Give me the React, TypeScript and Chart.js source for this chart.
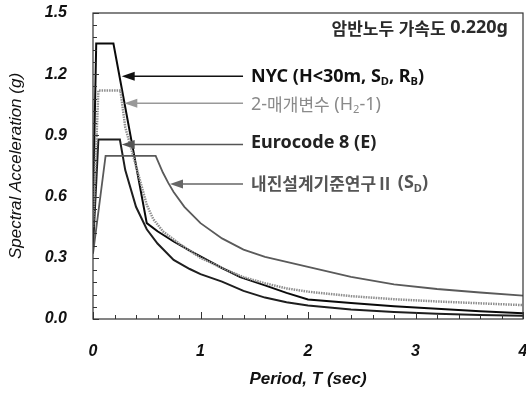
import React, { useEffect, useRef } from "react";
import { Chart, registerables } from "chart.js";

Chart.register(...registerables);

// ---- data ----
const nycPeriod = [0, 0.03, 0.19, 0.5, 0.6, 0.75, 0.9, 1.06, 1.2, 1.37, 1.6, 1.8, 2.0, 2.4, 2.8, 3.2, 3.6, 4.0];
const nycSa = [0.54, 1.35, 1.35, 0.47, 0.43, 0.38, 0.335, 0.29, 0.25, 0.205, 0.165, 0.128, 0.096, 0.078, 0.063, 0.05, 0.038, 0.028];

const twoParamPeriod = [0, 0.05, 0.255, 0.3, 0.4, 0.5, 0.56, 0.65, 0.8, 1.0, 1.2, 1.4, 1.6, 1.8, 2.0, 2.4, 2.8, 3.2, 3.6, 4.0];
const twoParamSa = [0.45, 1.12, 1.12, 0.94, 0.75, 0.56, 0.49, 0.43, 0.37, 0.30, 0.25, 0.205, 0.175, 0.15, 0.134, 0.112, 0.097, 0.086, 0.077, 0.068];

const eurocodePeriod = [0, 0.05, 0.25, 0.3, 0.4, 0.5, 0.6, 0.75, 0.9, 1.0, 1.2, 1.4, 1.6, 1.8, 2.0, 2.4, 2.8, 3.2, 3.6, 4.0];
const eurocodeSa = [0.35, 0.88, 0.88, 0.73, 0.55, 0.44, 0.37, 0.29, 0.245, 0.22, 0.183, 0.138, 0.105, 0.082, 0.066, 0.046, 0.034, 0.026, 0.02, 0.016];

const sdPeriod = [0, 0.117, 0.583, 0.65, 0.7, 0.75, 0.85, 1.0, 1.2, 1.4, 1.6, 1.8, 2.0, 2.4, 2.8, 3.2, 3.6, 4.0];
const sdSa = [0.32, 0.8, 0.8, 0.718, 0.667, 0.623, 0.55, 0.47, 0.395, 0.34, 0.305, 0.28, 0.256, 0.207, 0.17, 0.147, 0.13, 0.115];

const xTickValues = [0, 1, 2, 3, 4];
const xMinorTickValues = [0.2, 0.4, 0.6, 0.8, 1.2, 1.4, 1.6, 1.8, 2.2, 2.4, 2.6, 2.8, 3.2, 3.4, 3.6, 3.8];
const yTickValues = [0, 0.3, 0.6, 0.9, 1.2, 1.5];
const yMinorTickValues = [0.06, 0.12, 0.18, 0.24, 0.36, 0.42, 0.48, 0.54, 0.66, 0.72, 0.78, 0.84, 0.96, 1.02, 1.08, 1.14, 1.26, 1.32, 1.38, 1.44];

const xTitle = "Period, T (sec)";
const yTitle = "Spectral Acceleration (g)";
const headerText = "암반노두 가속도 0.220g";

// label pieces: [text, isSubscript]
const nycLabel: [string, boolean][] = [["NYC (H<30m, S", false], ["D", true], [", R", false], ["B", true], [")", false]];
const twoParamLabel: [string, boolean][] = [["2-매개변수 (H", false], ["2", true], ["-1)", false]];
const eurocodeLabel: [string, boolean][] = [["Eurocode 8 (E)", false]];
const sdLabel: [string, boolean][] = [["내진설계기준연구Ⅱ (S", false], ["D", true], [")", false]];

// annotation anchors in data units (period, Sa)
const annotations = [
  { parts: nycLabel, tip: [0.267, 1.19], textAt: [1.47, 1.188], color: "#111", textColor: "#111", weight: "bold" },
  { parts: twoParamLabel, tip: [0.291, 1.057], textAt: [1.47, 1.05], color: "#999", textColor: "#8a8a8a", weight: "normal" },
  { parts: eurocodeLabel, tip: [0.267, 0.856], textAt: [1.47, 0.861], color: "#555", textColor: "#222", weight: "bold" },
  { parts: sdLabel, tip: [0.716, 0.662], textAt: [1.47, 0.665], color: "#666", textColor: "#555", weight: "bold" },
];
const headerAt = [3.86, 1.426];

const CJK_FONT = "'Noto Sans CJK KR', sans-serif";
const LATIN_FONT = "'Noto Sans', 'Open Sans', sans-serif";
const AXIS_FONT = "Arial, 'Liberation Sans', sans-serif";
const CJK_SIZE = 17;
const LATIN_SIZE = 18;

function toPoints(xs: number[], ys: number[]) {
  return xs.map((x, i) => ({ x, y: ys[i] }));
}

// split a string into runs of Hangul/roman-numeral and other characters
function scriptRuns(s: string): [string, boolean][] {
  const runs: [string, boolean][] = [];
  const re = /[\uAC00-\uD7A3\u2160-\u217F]/;
  for (const ch of s) {
    const cjk = re.test(ch);
    if (runs.length && runs[runs.length - 1][1] === cjk) runs[runs.length - 1][0] += ch;
    else runs.push([ch, cjk]);
  }
  return runs;
}

function measureRich(ctx: any, s: string, weight: string, scale = 1) {
  let w = 0;
  scriptRuns(s).forEach(([t, cjk]) => {
    ctx.font = cjk ? `${weight} ${CJK_SIZE * scale}px ${CJK_FONT}` : `${weight} ${LATIN_SIZE * scale}px ${LATIN_FONT}`;
    w += ctx.measureText(t).width;
  });
  return w;
}

function drawRich(ctx: any, s: string, x: number, y: number, weight: string, scale = 1) {
  let cx = x;
  scriptRuns(s).forEach(([t, cjk]) => {
    ctx.font = cjk ? `${weight} ${CJK_SIZE * scale}px ${CJK_FONT}` : `${weight} ${LATIN_SIZE * scale}px ${LATIN_FONT}`;
    ctx.fillText(t, cx, y);
    cx += ctx.measureText(t).width;
  });
  return cx;
}

const overlayPlugin = {
  id: "overlay",
  afterDatasetsDraw(chart: any) {
    const { ctx, chartArea: a, scales } = chart;
    const xs = scales.x;
    const ys = scales.y;
    ctx.save();
    // frame
    ctx.strokeStyle = "#333";
    ctx.lineWidth = 1.2;
    ctx.strokeRect(a.left, a.top, a.right - a.left, a.bottom - a.top);
    // inward ticks
    ctx.lineWidth = 1;
    ctx.strokeStyle = "#333";
    ctx.beginPath();
    xTickValues.forEach((v) => {
      const px = Math.round(xs.getPixelForValue(v)) + 0.5;
      ctx.moveTo(px, a.bottom);
      ctx.lineTo(px, a.bottom - 7);
    });
    xMinorTickValues.forEach((v) => {
      const px = Math.round(xs.getPixelForValue(v)) + 0.5;
      ctx.moveTo(px, a.bottom);
      ctx.lineTo(px, a.bottom - 4);
    });
    yTickValues.forEach((v) => {
      const py = Math.round(ys.getPixelForValue(v)) + 0.5;
      ctx.moveTo(a.left, py);
      ctx.lineTo(a.left + 6, py);
    });
    yMinorTickValues.forEach((v) => {
      const py = Math.round(ys.getPixelForValue(v)) + 0.5;
      ctx.moveTo(a.left, py);
      ctx.lineTo(a.left + 4, py);
    });
    ctx.stroke();

    // header (right aligned)
    ctx.fillStyle = "#2a2a2a";
    ctx.textAlign = "left";
    ctx.textBaseline = "middle";
    const hw = measureRich(ctx, headerText, "bold");
    drawRich(ctx, headerText, xs.getPixelForValue(headerAt[0]) - hw, ys.getPixelForValue(headerAt[1]), "bold");

    // annotations
    annotations.forEach((an) => {
      const tipX = xs.getPixelForValue(an.tip[0]);
      const tipY = ys.getPixelForValue(an.tip[1]);
      const tx = xs.getPixelForValue(an.textAt[0]);
      const ty = ys.getPixelForValue(an.textAt[1]);
      const tailX = tx - 8;
      ctx.strokeStyle = an.color;
      ctx.fillStyle = an.color;
      ctx.lineWidth = 1.5;
      ctx.beginPath();
      ctx.moveTo(tailX, tipY);
      ctx.lineTo(tipX + 10, tipY);
      ctx.stroke();
      ctx.beginPath();
      ctx.moveTo(tipX, tipY);
      ctx.lineTo(tipX + 13, tipY - 4.5);
      ctx.lineTo(tipX + 13, tipY + 4.5);
      ctx.closePath();
      ctx.fill();

      // text
      ctx.textAlign = "left";
      ctx.textBaseline = "middle";
      ctx.fillStyle = an.textColor;
      let cx = tx;
      an.parts.forEach(([t, sub]) => {
        if (sub) {
          cx = drawRich(ctx, t, cx, ty + 5, an.weight, 0.62);
        } else {
          cx = drawRich(ctx, t, cx, ty, an.weight);
        }
      });
    });
    ctx.restore();
  },
};

export default function App() {
  const canvasRef = useRef<HTMLCanvasElement | null>(null);

  useEffect(() => {
    document.body.style.margin = "0";
    const canvas = canvasRef.current;
    if (!canvas) return;
    const chart = new Chart(canvas, {
      type: "line",
      data: {
        datasets: [
          {
            label: "내진설계기준연구Ⅱ (SD)",
            data: toPoints(sdPeriod, sdSa),
            borderColor: "#5a5a5a",
            borderWidth: 1.8,
            pointRadius: 0,
            tension: 0,
          },
          {
            label: "2-매개변수 (H2-1)",
            data: toPoints(twoParamPeriod, twoParamSa),
            borderColor: "#8e8e8e",
            borderWidth: 2.5,
            borderDash: [1.5, 1],
            pointRadius: 0,
            tension: 0,
          },
          {
            label: "Eurocode 8 (E)",
            data: toPoints(eurocodePeriod, eurocodeSa),
            borderColor: "#1e1e1e",
            borderWidth: 2,
            pointRadius: 0,
            tension: 0,
          },
          {
            label: "NYC (H<30m, SD, RB)",
            data: toPoints(nycPeriod, nycSa),
            borderColor: "#0a0a0a",
            borderWidth: 2,
            pointRadius: 0,
            tension: 0,
          },
        ],
      },
      options: {
        responsive: false,
        animation: false,
        devicePixelRatio: 1,
        layout: { padding: { top: 13, right: 3, bottom: 0, left: 0 } },
        plugins: { legend: { display: false }, tooltip: { enabled: false } },
        scales: {
          x: {
            type: "linear",
            min: 0,
            max: 4,
            grid: { display: false, drawTicks: false },
            border: { display: false },
            afterBuildTicks: (s: any) => {
              s.ticks = xTickValues.map((v) => ({ value: v }));
            },
            afterFit: (s: any) => {
              s.height = 82;
              s.paddingLeft = 0;
              s.paddingRight = 0;
            },
            ticks: {
              padding: 23,
              color: "#111",
              font: { family: AXIS_FONT, size: 16, weight: "bold", style: "italic" },
              maxRotation: 0,
              autoSkip: false,
            },
            title: {
              display: true,
              text: xTitle,
              color: "#111",
              padding: { top: 0, bottom: 11 },
              font: { family: AXIS_FONT, size: 17, weight: "bold", style: "italic" },
            },
          },
          y: {
            type: "linear",
            min: 0,
            max: 1.5,
            grid: { display: false, drawTicks: false },
            border: { display: false },
            afterBuildTicks: (s: any) => {
              s.ticks = yTickValues.map((v) => ({ value: v }));
            },
            afterFit: (s: any) => {
              s.width = 93;
              s.paddingTop = 0;
              s.paddingBottom = 0;
            },
            ticks: {
              padding: 26,
              color: "#111",
              font: { family: AXIS_FONT, size: 16, weight: "bold", style: "italic" },
              callback: (v: any) => Number(v).toFixed(1),
            },
            title: {
              display: true,
              text: yTitle,
              color: "#111",
              padding: { top: 6, bottom: 0 },
              font: { family: AXIS_FONT, size: 17, weight: "normal", style: "italic" },
            },
          },
        },
      },
      plugins: [overlayPlugin],
    });
    return () => chart.destroy();
  }, []);

  return (
    <div style={{ position: "absolute", left: 0, top: 0, width: 526, height: 401, background: "#fff" }}>
      <canvas ref={canvasRef} width={526} height={401} />
    </div>
  );
}
